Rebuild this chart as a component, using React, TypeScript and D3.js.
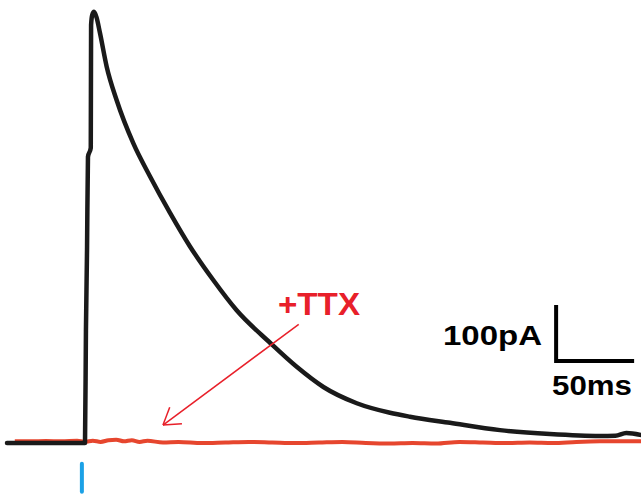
import { useEffect, useRef } from "react";
import * as d3 from "d3";

// time in ms from stimulus onset, current in pA (outward up)
const controlTime = [-50, 0, 0.6, 1.3, 1.9, 3.7, 3.9, 4.6, 5.8, 7.4, 9.6, 13.9, 20.3, 31.0, 41.7, 54.5, 67.3, 82.2, 97.2, 118.6, 135.7, 152.8, 174.2, 195.5, 208.3, 234, 266, 298, 330, 340, 347, 357];
const controlCurrent = [0, 0, 200, 345, 511, 527, 746, 764, 770, 760, 732, 672, 612, 535, 476, 411, 351, 291, 237, 179, 136, 100, 71, 54, 47, 36, 23, 16, 12.5, 13, 18, 14];

const ttxTime = [-45, -35, -25, -15, -5, 0, 5, 10, 15, 20, 25, 30, 35, 40, 50, 60, 75, 90, 105, 120, 135, 150, 165, 180, 195, 210, 225, 240, 255, 270, 285, 300, 315, 330, 345, 357];
const ttxCurrent = [3, 3, 3.5, 3, 4, 2, 4, 2, 5, 6, 3, 5, 2, 4, 1, 2, 0, 1, 2, 1, 0, 1, 2, 0, -1, 0, -1, 2, 1, 0, 1, 0, 2, 3, 3, 3];

const stimTime = -2;
const scaleBarCurrent = 100;
const scaleBarTime = 50;
const labels = { ttx: "+TTX", current: "100pA", time: "50ms" };

export default function App() {
  const ref = useRef<SVGSVGElement>(null);

  useEffect(() => {
    const width = 641;
    const height = 496;
    const svg = d3.select(ref.current).attr("width", width).attr("height", height);
    svg.selectAll("*").remove();

    // 78 px per 50 ms, 56 px per 100 pA, baseline at y=443
    const x = d3.scaleLinear().domain([0, 50]).range([85, 163]);
    const y = d3.scaleLinear().domain([0, 100]).range([443, 387]);

    const line = d3
      .line<[number, number]>()
      .x((d) => x(d[0]))
      .y((d) => y(d[1]))
      .curve(d3.curveMonotoneX);

    const ttx = ttxTime.map((t, i) => [t, ttxCurrent[i]] as [number, number]);
    const control = controlTime.map((t, i) => [t, controlCurrent[i]] as [number, number]);

    svg.append("path")
      .attr("d", line(ttx))
      .attr("fill", "none")
      .attr("stroke", "#e6462e")
      .attr("stroke-width", 4)
      .attr("stroke-linejoin", "round");

    svg.append("path")
      .attr("d", line(control))
      .attr("fill", "none")
      .attr("stroke", "#1a1a1a")
      .attr("stroke-width", 4.5)
      .attr("stroke-linejoin", "round")
      .attr("stroke-linecap", "round");

    // stimulus marker
    svg.append("line")
      .attr("x1", x(stimTime)).attr("x2", x(stimTime))
      .attr("y1", y(-37)).attr("y2", y(-87))
      .attr("stroke", "#1ba1e6")
      .attr("stroke-width", 4)
      .attr("stroke-linecap", "round");

    // arrow to TTX trace
    const tail: [number, number] = [x(137), y(212)];
    const tip: [number, number] = [x(50), y(32)];
    svg.append("line")
      .attr("x1", tail[0]).attr("y1", tail[1])
      .attr("x2", tip[0]).attr("y2", tip[1])
      .attr("stroke", "#e8202a")
      .attr("stroke-width", 1.5);
    const ang = Math.atan2(tail[1] - tip[1], tail[0] - tip[0]);
    [-0.57, 0.57].forEach((da) => {
      svg.append("line")
        .attr("x1", tip[0]).attr("y1", tip[1])
        .attr("x2", tip[0] + 19 * Math.cos(ang + da))
        .attr("y2", tip[1] + 19 * Math.sin(ang + da))
        .attr("stroke", "#e8202a")
        .attr("stroke-width", 1.5);
    });

    svg.append("text")
      .attr("x", 278).attr("y", 315)
      .attr("font-family", "Liberation Sans, Arial, sans-serif")
      .attr("font-weight", "bold")
      .attr("font-size", 31)
      .attr("fill", "#e8202a")
      .attr("textLength", 82)
      .attr("lengthAdjust", "spacingAndGlyphs")
      .text(labels.ttx);

    // scale bar, raised 82 px above the baseline
    const bx = 302;
    const lift = 82;
    svg.append("path")
      .attr("d", `M${x(bx)},${y(scaleBarCurrent) - lift}V${y(0) - lift}H${x(bx + scaleBarTime)}`)
      .attr("fill", "none")
      .attr("stroke", "#000")
      .attr("stroke-width", 4);

    svg.append("text")
      .attr("x", 443).attr("y", 345)
      .attr("font-family", "Liberation Sans, Arial, sans-serif")
      .attr("font-weight", "bold")
      .attr("font-size", 28)
      .attr("fill", "#000")
      .attr("textLength", 99)
      .attr("lengthAdjust", "spacingAndGlyphs")
      .text(labels.current);

    svg.append("text")
      .attr("x", 552).attr("y", 395)
      .attr("font-family", "Liberation Sans, Arial, sans-serif")
      .attr("font-weight", "bold")
      .attr("font-size", 27)
      .attr("fill", "#000")
      .attr("textLength", 80)
      .attr("lengthAdjust", "spacingAndGlyphs")
      .text(labels.time);
  }, []);

  return (
    <svg
      ref={ref}
      style={{ position: "absolute", left: 0, top: 0, display: "block", background: "#fff" }}
    />
  );
}
